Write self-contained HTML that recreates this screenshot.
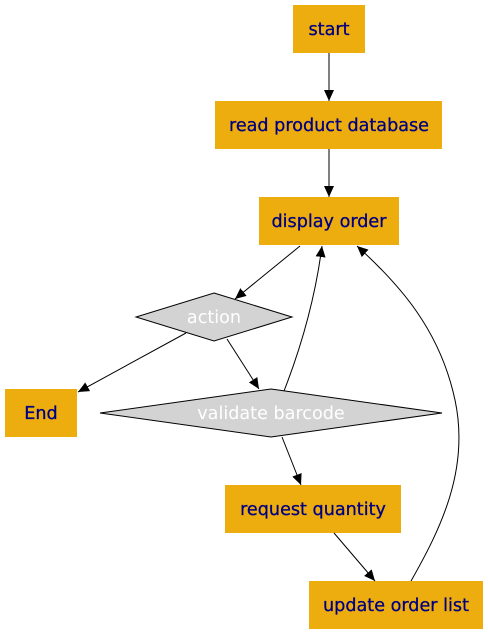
<!DOCTYPE html>
<html><head><style>html,body{margin:0;padding:0;background:#fff;}svg{display:block}</style></head>
<body>
<svg width="488" height="635" viewBox="0 0 488 635" xmlns="http://www.w3.org/2000/svg" font-family="DejaVu Sans, Liberation Sans, sans-serif" font-size="17.6">
<defs><marker id="a" markerWidth="12" markerHeight="12" refX="11" refY="5.5" orient="auto" markerUnits="userSpaceOnUse"><path d="M0,0.5 L11,5.5 L0,10.5 z" fill="#000"/></marker></defs>
<g fill="#eead0e">
<rect x="293" y="5" width="72" height="48"/>
<rect x="215" y="101" width="227" height="48"/>
<rect x="259" y="197" width="140" height="48"/>
<rect x="5" y="389" width="72" height="48"/>
<rect x="225" y="485" width="176" height="48"/>
<rect x="309" y="581" width="174" height="48"/>
</g>
<polygon points="214,293 292,317 214,341 136,317" fill="#d3d3d3" stroke="#000"/>
<polygon points="271,389 442,413 271,437 100,413" fill="#d3d3d3" stroke="#000"/>
<g stroke="#000" fill="none" stroke-width="1" marker-end="url(#a)">
<path d="M329,53 L329,101"/>
<path d="M329,149 L329,197"/>
<path d="M300,246 L235,299"/>
<path d="M186,333 L78,392"/>
<path d="M227,339 L259,389"/>
<path d="M284,391 C300,350 315,300 322,246"/>
<path d="M282,437 L301,485"/>
<path d="M334,533 L375,581"/>
<path d="M411,581 C440,530 470,470 455,400 C440,330 400,285 357,246"/>
</g>
<g fill="#000080" stroke="#000080" stroke-width="0.3" text-anchor="middle">
<text x="329" y="35">start</text>
<text x="329" y="131">read product database</text>
<text x="329" y="227">display order</text>
<text x="41" y="419">End</text>
<text x="313" y="515">request quantity</text>
<text x="396" y="611">update order list</text>
</g>
<g fill="#fff" text-anchor="middle">
<text x="214" y="323">action</text>
<text x="271" y="419">validate barcode</text>
</g>
</svg>
</body></html>
